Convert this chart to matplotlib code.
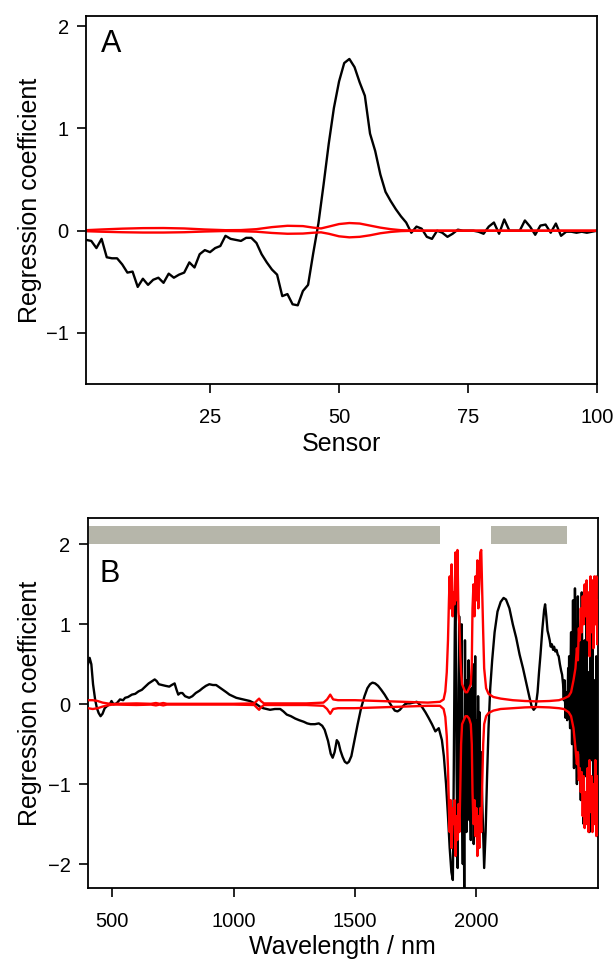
import matplotlib
matplotlib.use("Agg")
import matplotlib.pyplot as plt
from matplotlib.patches import Rectangle

plt.rcParams['font.family'] = ['Liberation Sans', 'DejaVu Sans']

# ---------------- Panel A data ----------------
sensor = list(range(1, 101))
coef_a = [-0.09, -0.10, -0.17, -0.08, -0.26, -0.27, -0.27, -0.33, -0.41, -0.40,
          -0.55, -0.47, -0.53, -0.48, -0.46, -0.51, -0.42, -0.46, -0.43, -0.41,
          -0.31, -0.36, -0.23, -0.19, -0.21, -0.17, -0.15, -0.05, -0.08, -0.09,
          -0.10, -0.07, -0.07, -0.12, -0.23, -0.31, -0.38, -0.43, -0.64, -0.62,
          -0.72, -0.73, -0.59, -0.53, -0.22, 0.07, 0.45, 0.85, 1.20, 1.46,
          1.64, 1.68, 1.60, 1.45, 1.32, 0.95, 0.78, 0.55, 0.38, 0.29,
          0.21, 0.14, 0.08, -0.02, 0.04, 0.02, -0.06, -0.08, 0.00, -0.02,
          -0.06, -0.03, 0.01, 0.00, 0.00, 0.00, -0.01, -0.03, 0.04, 0.08,
          -0.03, 0.11, 0.00, 0.00, 0.00, 0.10, 0.04, -0.04, 0.05, 0.06,
          -0.02, 0.07, -0.05, -0.01, -0.01, -0.02, -0.01, -0.02, -0.01, 0.00]

band_a_x = [1, 4, 8, 12, 16, 20, 24, 28, 31, 34, 37, 40, 43, 45, 46.5, 48, 50, 52, 54,
            56, 58, 60, 62, 65, 100]
band_a_up = [0.005, 0.012, 0.02, 0.025, 0.026, 0.022, 0.012, 0.005, 0.006, 0.015,
             0.035, 0.048, 0.045, 0.03, 0.022, 0.04, 0.065, 0.075, 0.07, 0.05,
             0.03, 0.015, 0.005, 0.0, 0.0]
band_a_lo = [-0.005, -0.01, -0.015, -0.018, -0.018, -0.015, -0.008, -0.003, -0.005,
             -0.01, -0.022, -0.03, -0.028, -0.02, -0.016, -0.03, -0.055, -0.065,
             -0.06, -0.045, -0.025, -0.012, -0.004, 0.0, 0.0]

# ---------------- Panel B data ----------------
wl_b = [400, 407, 414, 421, 430, 437, 444, 452, 460, 469, 480, 490, 497, 505, 518,
        532, 545, 553, 565, 581, 595, 608, 622, 636, 650, 660, 675, 683, 692, 705,
        719, 735, 745, 757, 765, 772, 780, 789, 800, 817, 830, 844, 860, 872, 886,
        900, 915, 928, 942, 956, 970, 983, 997, 1011, 1025, 1039, 1053, 1067, 1080,
        1094, 1108, 1122, 1136, 1150, 1170, 1192, 1205, 1219, 1236, 1254, 1270,
        1289, 1303, 1317, 1335, 1351, 1365, 1375, 1389, 1400, 1408, 1416, 1425,
        1432, 1440, 1449, 1458, 1467, 1475, 1485, 1498, 1511, 1525, 1539, 1551,
        1562, 1572, 1583, 1595, 1608, 1622, 1636, 1650, 1664, 1675, 1685, 1696,
        1706, 1716, 1726, 1740, 1754, 1765, 1775, 1790, 1803, 1817, 1831, 1845,
        1858, 1866, 1875, 1883, 1890, 1897, 1903,
        1905, 1906.5, 1908, 1909.5, 1911, 1912.5, 1914, 1915.5, 1917, 1918.5, 1920,
        1921.5, 1923, 1924.5, 1926, 1927.5, 1929, 1930.5, 1932, 1933.5, 1935,
        1936.5, 1938, 1939.5, 1941, 1942.5, 1944, 1945.5, 1947, 1948.5, 1950,
        1951.5, 1953, 1954.5, 1956, 1957.5, 1959, 1960.5, 1962, 1963.5, 1965,
        1966.5, 1968, 1969.5, 1971, 1972.5, 1974, 1975.5, 1977, 1978.5, 1980,
        1981.5, 1983, 1984.5, 1986, 1987.5, 1989, 1990.5, 1992, 1993.5, 1995,
        1996.5, 1998, 1999.5, 2001, 2002.5, 2004, 2005.5, 2007, 2008.5, 2010,
        2011.5, 2013, 2014.5, 2016, 2018, 2020, 2022, 2025,
        2032, 2038, 2044, 2050, 2057, 2065, 2075, 2087,
        2100, 2112, 2122, 2136, 2150, 2164, 2178, 2192, 2206, 2219, 2228, 2236,
        2244, 2252, 2258, 2264, 2272, 2279, 2283, 2288, 2293, 2297, 2302, 2306,
        2311, 2316, 2320, 2325, 2330, 2335, 2339, 2344, 2349, 2353, 2357, 2360,
        2363, 2367, 2371, 2374, 2378,
        2380, 2382, 2384, 2386, 2388, 2390, 2392, 2394, 2396, 2398, 2400, 2402,
        2404, 2406, 2408, 2410, 2412, 2414, 2416, 2418, 2420, 2422, 2424, 2426,
        2428, 2430, 2432, 2434, 2436, 2438, 2440, 2442, 2444, 2446, 2448, 2450,
        2452, 2454, 2456, 2458, 2460, 2462, 2464, 2466, 2468, 2470, 2472, 2474,
        2476, 2478, 2480, 2482, 2484, 2486, 2488, 2490, 2492, 2494, 2496, 2498,
        2500]
coef_b = [0.50, 0.58, 0.50, 0.25, 0.05, -0.05, -0.11, -0.15, -0.12, -0.05, -0.02,
          0.0, 0.04, 0.0, 0.01, 0.06, 0.05, 0.08, 0.09, 0.12, 0.13, 0.16, 0.18,
          0.22, 0.26, 0.28, 0.31, 0.29, 0.25, 0.24, 0.23, 0.22, 0.24, 0.26, 0.18,
          0.12, 0.14, 0.14, 0.10, 0.08, 0.10, 0.14, 0.17, 0.20, 0.23, 0.25, 0.24,
          0.24, 0.21, 0.18, 0.15, 0.12, 0.10, 0.08, 0.07, 0.06, 0.05, 0.04, 0.02,
          0.0, -0.03, -0.05, -0.06, -0.07, -0.06, -0.06, -0.09, -0.13, -0.15,
          -0.18, -0.20, -0.22, -0.24, -0.25, -0.25, -0.24, -0.27, -0.32, -0.46,
          -0.62, -0.67, -0.60, -0.45, -0.48, -0.58, -0.66, -0.72, -0.74, -0.72,
          -0.65, -0.45, -0.25, -0.05, 0.10, 0.20, 0.25, 0.27, 0.26, 0.23, 0.18,
          0.12, 0.05, -0.02, -0.08, -0.09, -0.07, -0.03, 0.0, 0.01, 0.01, 0.02,
          0.03, 0.0, -0.03, -0.10, -0.17, -0.25, -0.34, -0.30,
          -0.45, -0.65, -1.0, -1.4, -1.8, -2.1, -2.2,
          -1.6, -0.9, -0.4, 0.3, 0.9, 1.25, 1.3, 0.6, 0.2, -0.8, -1.2, -1.7,
          -2.05, -1.1, -0.6, 0.4, 1.1, 0.7, 0.4, -0.6, -1.5, -0.4, 0.6, 1.0,
          -0.9, -1.6, -2.0, -1.0, -0.2, -1.4, -2.45, -0.5, 0.8, 0.2, -0.5, -1.2,
          -1.6, -0.6, 0.3, -0.4, -1.2, -0.2, 0.55, -0.5, -1.45, -0.9, -0.3, -1.3,
          -1.7, -0.4, 0.2, -0.6, -1.1, -0.2, 0.5, -0.8, -1.75, -1.2, -0.6, 0.1,
          0.6, -0.5, -1.3, -0.8, -0.2, -1.0, -1.55, -0.6, 0.1, -0.4, -0.9, -0.3,
          -0.1, -0.8, -1.4, -0.9, -0.6, -1.0, -1.3,
          -2.05, -1.6, -0.9, -0.3, 0.2, 0.55, 0.9, 1.16,
          1.28, 1.33, 1.31, 1.2, 1.0, 0.83, 0.62, 0.45, 0.26, 0.08, -0.03, -0.07,
          -0.04, 0.15, 0.4, 0.62, 0.95, 1.18, 1.25, 1.1, 0.92, 0.87, 0.80, 0.72,
          0.75, 0.68, 0.72, 0.66, 0.68, 0.62, 0.60, 0.50, 0.42, 0.37, 0.25, 0.05,
          0.3, -0.17, 0.15, -0.2, 0.45,
          0.1, 0.6, 0.0, -0.3, 0.5, 0.9, 0.1, -0.5, 0.4, 1.3, 0.3, -0.8,
          0.2, 1.45, 0.6, 0.2, -0.4, -1.0, 0.1, 1.35, 0.4, -0.6, 0.2, 0.9,
          -0.3, -1.2, 0.1, 1.4, 0.5, -0.3, -0.9, -1.5, -0.2, 0.8, 0.1, -0.9,
          0.3, 1.2, -0.2, -1.3, -0.5, 0.4, -0.4, -1.6, -0.3, 0.9, 0.2, -0.7,
          0.3, 1.1, -0.2, -1.45, -0.6, 0.3, -0.3, -1.0, -0.1, 0.6, -0.5, -1.65,
          -1.2]

band_b_x = [400, 420, 440, 460, 480, 500, 520, 600, 660, 680, 695, 710, 725, 800,
            1000, 1085, 1098, 1105, 1112, 1125, 1300, 1370, 1385, 1398, 1410, 1430,
            1460, 1500, 1550, 1600, 1650, 1700, 1750, 1800, 1850, 1865, 1872, 1878,
            1883, 1887, 1890, 1894, 1898, 1902, 1906, 1910, 1914, 1918, 1922, 1926,
            1930, 1934, 1937, 1941, 1948, 1955, 1962, 1970, 1977, 1981, 1984, 1988,
            1992, 1996, 2000, 2004, 2008, 2012, 2016, 2020, 2024, 2028, 2032, 2040,
            2050, 2070, 2100, 2150, 2200, 2250, 2300, 2340, 2360, 2380, 2390, 2400,
            2408, 2414, 2418, 2422, 2426, 2430, 2434, 2438, 2442, 2446, 2450, 2454,
            2458, 2462, 2466, 2470, 2474, 2478, 2482, 2486, 2490, 2494, 2498, 2500]
band_b_up = [0.05, 0.05, 0.04, 0.02, 0.01, 0.0, 0.005, 0.01, 0.005, 0.015, 0.005,
             0.015, 0.005, 0.005, 0.005, 0.01, 0.05, 0.07, 0.04, 0.01, 0.01, 0.02,
             0.06, 0.12, 0.06, 0.05, 0.05, 0.05, 0.045, 0.04, 0.035, 0.03, 0.025,
             0.02, 0.03, 0.06, 0.16, 0.4, 0.8, 1.3, 1.6, 1.2, 1.75, 1.1, 1.4, 1.25,
             1.9, 1.3, 1.93, 1.15, 1.0, 0.6, 0.4, 0.25, 0.2, 0.15, 0.15, 0.2, 0.25,
             0.5, 1.2, 1.5, 1.1, 1.6, 1.3, 1.8, 1.2, 1.5, 1.9, 1.93, 1.4, 0.9, 0.45,
             0.2, 0.13, 0.09, 0.07, 0.05, 0.04, 0.035, 0.04, 0.05, 0.07, 0.1, 0.15,
             0.3, 0.45, 0.7, 0.55, 0.95, 0.8, 1.2, 0.9, 1.35, 1.0, 1.5, 1.1, 1.55,
             0.8, 1.4, 0.6, 1.6, 0.9, 1.55, 0.7, 1.6, 1.0, 1.6, 0.75, 1.3]
band_b_lo = [-0.05, -0.06, -0.05, -0.03, -0.015, -0.005, -0.005, -0.01, -0.005,
             -0.015, -0.005, -0.015, -0.005, -0.005, -0.005, -0.01, -0.05, -0.07,
             -0.04, -0.01, -0.01, -0.02, -0.06, -0.12, -0.06, -0.05, -0.05, -0.05,
             -0.045, -0.04, -0.035, -0.03, -0.025, -0.02, -0.02, -0.06, -0.16, -0.4,
             -0.8, -1.3, -1.6, -1.2, -1.8, -1.3, -1.5, -1.2, -1.9, -1.4, -1.7, -1.25,
             -1.6, -1.0, -0.5, -0.25, -0.2, -0.15, -0.15, -0.18, -0.25, -0.5, -1.1,
             -1.5, -1.2, -1.65, -1.3, -1.9, -1.4, -1.8, -1.3, -1.6, -1.0, -0.5, -0.25,
             -0.15, -0.11, -0.08, -0.06, -0.05, -0.04, -0.035, -0.04, -0.05, -0.06,
             -0.1, -0.15, -0.3, -0.55, -0.75, -0.6, -0.95, -0.8, -1.1, -0.85, -1.4,
             -0.9, -1.55, -1.1, -1.5, -0.8, -1.6, -0.7, -1.35, -0.9, -1.6, -1.0, -1.5,
             -0.7, -1.65, -0.9, -1.4]

bar_spans = [(405, 1850), (2062, 2375)]
bar_y = (2.0, 2.23)

# ---------------- Figure ----------------
fig = plt.figure(figsize=(6.15, 9.71), dpi=100)
axA = fig.add_axes([0.140, 0.6045, 0.831, 0.379])
axB = fig.add_axes([0.143, 0.0855, 0.829, 0.381])

lw_data = 1.7
axA.plot(sensor, coef_a, color='black', lw=lw_data)
axA.plot(band_a_x, band_a_up, color='red', lw=lw_data)
axA.plot(band_a_x, band_a_lo, color='red', lw=lw_data)
axA.set_xlim(1, 100)
axA.set_ylim(-1.5, 2.1)
axA.set_xticks([25, 50, 75, 100])
axA.set_yticks([-1, 0, 1, 2])
axA.set_xlabel('Sensor', fontsize=18, labelpad=3)
axA.set_ylabel('Regression coefficient', fontsize=18)
axA.yaxis.set_label_coords(-0.086, 0.5)
axA.text(0.03, 0.925, 'A', transform=axA.transAxes, fontsize=22,
         ha='left', va='center')

for x0, x1 in bar_spans:
    axB.add_patch(Rectangle((x0, bar_y[0]), x1 - x0, bar_y[1] - bar_y[0],
                            facecolor='#b6b6aa', edgecolor='none', zorder=1))
axB.plot(wl_b, coef_b, color='black', lw=lw_data, zorder=2)
axB.plot(band_b_x, band_b_up, color='red', lw=lw_data, zorder=3)
axB.plot(band_b_x, band_b_lo, color='red', lw=lw_data, zorder=3)
axB.set_xlim(400, 2500)
axB.set_ylim(-2.3, 2.33)
axB.set_xticks([500, 1000, 1500, 2000])
axB.set_yticks([-2, -1, 0, 1, 2])
axB.set_xlabel('Wavelength / nm', fontsize=18, labelpad=3)
axB.set_ylabel('Regression coefficient', fontsize=18)
axB.yaxis.set_label_coords(-0.090, 0.5)
axB.text(0.022, 0.85, 'B', transform=axB.transAxes, fontsize=22,
         ha='left', va='center')

for ax in (axA, axB):
    for sp in ax.spines.values():
        sp.set_linewidth(1.3)
        sp.set_color('black')
    ax.tick_params(direction='out', length=6.5, width=1.2, labelsize=14.5,
                   colors='black')
    ax.tick_params(axis='x', pad=11)
    ax.tick_params(axis='y', pad=6)

fig.savefig('out.png', dpi=100)
